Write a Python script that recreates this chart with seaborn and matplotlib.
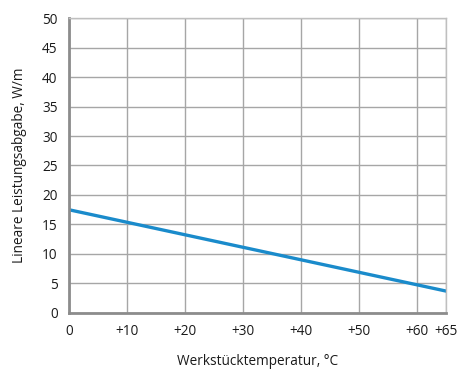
import numpy as np
import pandas as pd
import matplotlib
matplotlib.use("Agg")
import matplotlib.pyplot as plt
import seaborn as sns

# Werkstücktemperatur (°C) vs. lineare Leistungsabgabe (W/m)
temperature = [0, 65]
power = [17.5, 3.7]
x_ticks = [0, 10, 20, 30, 40, 50, 60, 65]
x_labels = ["0", "+10", "+20", "+30", "+40", "+50", "+60", "+65"]
y_ticks = list(range(0, 55, 5))

df = pd.DataFrame({"temp": temperature, "power": power})

sns.set_theme(style="white")
plt.rcParams["font.family"] = ["Open Sans", "DejaVu Sans"]

fig = plt.figure(figsize=(4.59, 3.69), dpi=100)
ax = fig.add_axes([0.150, 0.152, 0.822, 0.799])

sns.lineplot(data=df, x="temp", y="power", ax=ax, color="#1a8bcb", linewidth=2.4)

ax.set_xlim(0, 65)
ax.set_ylim(0, 50)
ax.set_xticks(x_ticks)
ax.set_xticklabels(x_labels)
ax.set_yticks(y_ticks)
ax.grid(True, color="#a6a6a6", linewidth=1.0)
ax.set_axisbelow(True)

for side in ["top", "right"]:
    ax.spines[side].set_color("#bfbfbf")
    ax.spines[side].set_linewidth(1.0)
for side in ["left", "bottom"]:
    ax.spines[side].set_color("#8c8c8c")
    ax.spines[side].set_linewidth(2.0)

ax.tick_params(axis="both", length=0, labelsize=9.8, colors="#1a1a1a", pad=8)
ax.set_xlabel("Werkstücktemperatur, °C", fontsize=9.8, color="#1a1a1a", labelpad=11)
ax.set_ylabel("Lineare Leistungsabgabe, W/m", fontsize=9.8, color="#1a1a1a", labelpad=11)

fig.savefig("out.png", dpi=100)
